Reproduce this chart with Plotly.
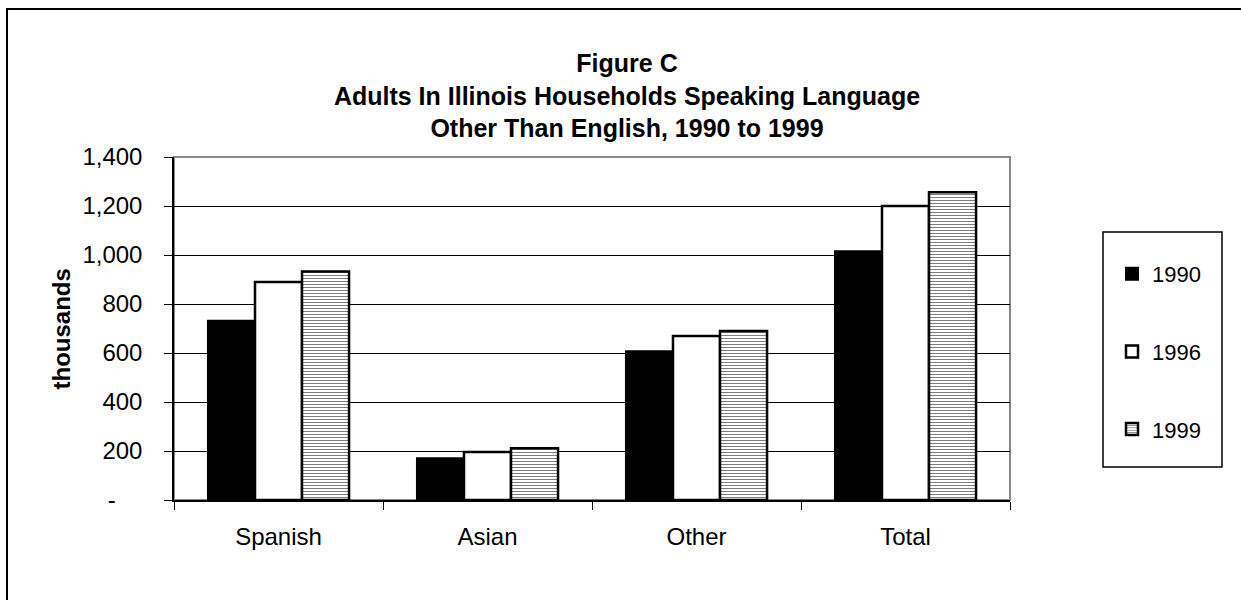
import plotly.graph_objects as go

categories = ["Spanish", "Asian", "Other", "Total"]
years = ["1990", "1996", "1999"]
values_1990 = [732, 170, 607, 1015]
values_1996 = [890, 196, 669, 1200]
values_1999 = [933, 211, 690, 1256]
y_tickvals = [0, 200, 400, 600, 800, 1000, 1200, 1400]
y_ticktext = ["-" + "\u00a0" * 4, "200", "400", "600", "800", "1,000", "1,200", "1,400"]
title_lines = ["Figure C",
               "Adults In Illinois Households Speaking Language",
               "Other Than English, 1990 to 1999"]
y_title = "thousands"

FONT = "Liberation Sans, Arial, sans-serif"

fig = go.Figure()
fig.add_trace(go.Bar(
    x=categories, y=values_1990, name=years[0], legendgroup="a",
    marker=dict(color="black", line=dict(color="black", width=2)),
))
fig.add_trace(go.Bar(
    x=categories, y=values_1996, name=years[1], legendgroup="b",
    marker=dict(color="white", line=dict(color="black", width=2.5)),
))
fig.add_trace(go.Bar(
    x=categories, y=values_1999, name=years[2], legendgroup="c",
    marker=dict(color="white", line=dict(color="black", width=2.5),
                pattern=dict(shape="-", fgcolor="black", bgcolor="white",
                             size=3, solidity=0.35)),
))

ml, mr, mt, mb = 174, 231, 157, 100
W, H = 1241, 600
pw = W - ml - mr
ph = H - mt - mb

def px_x(p):
    return (p - ml) / pw

def px_y(p):
    return (H - mb - p) / ph

fig.update_layout(
    width=W, height=H,
    margin=dict(l=ml, r=mr, t=mt, b=mb, autoexpand=False),
    paper_bgcolor="white", plot_bgcolor="white",
    font=dict(family=FONT, color="black", size=24),
    barmode="group", bargap=0.325, bargroupgap=0,
    title=dict(text="<br>".join(title_lines), x=627 / W, xref="container",
               xanchor="center", y=1 - 72 / H, yanchor="top",
               font=dict(family=FONT, size=25, color="black", weight="bold")),
    showlegend=True,
    legend=dict(x=px_x(1112), y=px_y(253), xanchor="left", yanchor="top",
                bgcolor="rgba(0,0,0,0)", borderwidth=0,
                font=dict(family=FONT, size=22, color="black"),
                tracegroupgap=46, traceorder="grouped"),
    xaxis=dict(
        type="category", showline=True, linecolor="black", linewidth=2,
        ticks="outside", tickson="boundaries", ticklen=8, tickcolor="black",
        tickwidth=1, showgrid=False, ticklabelstandoff=14,
        tickfont=dict(family=FONT, size=24, color="black"),
    ),
    yaxis=dict(
        range=[0, 1400], tickvals=y_tickvals, ticktext=y_ticktext,
        showline=True, linecolor="black", linewidth=1.5,
        ticks="outside", ticklen=8, tickcolor="black", tickwidth=1,
        showgrid=True, gridcolor="black", gridwidth=1, zeroline=False,
        ticklabelstandoff=17,
        tickfont=dict(family=FONT, size=24, color="black"),
    ),
    shapes=[
        # plot area border (gray)
        dict(type="rect", xref="paper", yref="paper", x0=0, x1=1, y0=0, y1=1,
             line=dict(color="#888888", width=2), layer="below"),
        # outer chart frame
        dict(type="rect", xref="paper", yref="paper",
             x0=px_x(7), x1=px_x(W + 20), y0=px_y(H + 20), y1=px_y(9),
             line=dict(color="black", width=2)),
        # legend box
        dict(type="rect", xref="paper", yref="paper",
             x0=px_x(1103), x1=px_x(1222), y0=px_y(467), y1=px_y(232),
             line=dict(color="black", width=1.5)),
    ],
    annotations=[
        dict(text=y_title, xref="paper", yref="paper", x=px_x(61), y=0.5,
             xanchor="center", yanchor="middle", textangle=-90, showarrow=False,
             font=dict(family=FONT, size=24, color="black", weight="bold")),
    ],
)

fig.write_html("out.html")
